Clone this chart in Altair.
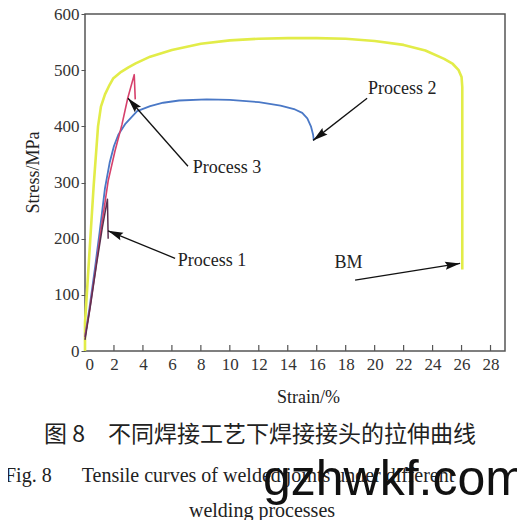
import math
import altair as alt
import pandas as pd

# ---------------- data ----------------
# BM (base metal)
bm_strain = [0, 0, 0.6, 0.9, 1.1, 1.38, 1.7, 1.94, 2.5, 3.0, 3.5, 4.5, 6, 8, 10, 12, 14, 16,
             18, 20, 22, 23.5, 24.8, 25.4, 25.8, 26.0, 26.05, 26.05]
bm_stress = [0, 50, 295, 400, 435, 457, 474, 485, 497, 505, 512, 524, 536, 547, 553, 556, 557, 557,
             556, 552, 545, 535, 520, 511, 500, 488, 470, 145]

# Process 2 (blue)
p2_strain = [0, 0.3, 0.7, 1.0, 1.38, 1.7, 2.0, 2.3, 2.8, 3.6, 4.5, 5.4, 6.5, 8.4, 10, 12, 13.5,
             14.5, 15.0, 15.35, 15.6, 15.75, 15.8]
p2_stress = [25, 75, 150, 210, 290, 335, 365, 385, 405, 427, 436, 442, 446, 448, 447, 443, 437,
             430, 424, 414, 400, 385, 375]

# Process 3 (red)
p3_strain = [0, 0.3, 0.7, 1.1, 1.6, 2.07, 2.55, 2.95, 3.4, 3.47]
p3_stress = [25, 70, 140, 215, 303, 356, 403, 450, 492, 448]

# Process 1 (dark)
p1_strain = [0, 0.4, 0.8, 1.2, 1.55, 1.6]
p1_stress = [20, 85, 155, 220, 270, 200]

x_ticks = list(range(0, 29, 2))
y_ticks = [0, 100, 200, 300, 400, 500, 600]

label_text = ["Process 1", "Process 2", "Process 3", "BM"]
label_strain = [8.77, 21.9, 9.8, 18.2]
label_stress = [161, 467, 326, 156]

arrow_tail_strain = [6.22, 19.48, 7.11, 18.65]
arrow_tail_stress = [165, 450, 329, 126]
arrow_tip_strain = [1.59, 15.75, 2.97, 25.9]
arrow_tip_stress = [214, 375, 450, 156]

caption_cn = "图 8\u3000不同焊接工艺下焊接接头的拉伸曲线"
caption_en1 = "Fig. 8\u2003\u2002Tensile curves of welded joints under different"
caption_en2 = "welding processes"
watermark = "gzhwkf.com"

# ---------------- layout ----------------
W, H = 420, 337
X_MAX, Y_MAX = 29, 600
SERIF = "Liberation Serif"

xscale = alt.Scale(domain=[0, X_MAX], nice=False, zero=False)
yscale = alt.Scale(domain=[0, Y_MAX], nice=False, zero=False)

x_axis = alt.Axis(
    values=x_ticks, ticks=False, domain=False, grid=False,
    labelFont=SERIF, labelFontSize=17, labelColor="#333", labelPadding=5,
    titleFont=SERIF, titleFontSize=18, titleFontWeight="normal", titleColor="#222",
    titleX=223, titleY=46, titleAlign="center", titleBaseline="middle",
)
y_axis = alt.Axis(
    values=y_ticks, tickSize=4, tickColor="#555", domain=False, grid=False,
    labelFont=SERIF, labelFontSize=17, labelColor="#333", labelPadding=2,
    titleFont=SERIF, titleFontSize=18, titleFontWeight="normal", titleColor="#222",
    titleX=-52, titleY=158, titleAngle=270, titleAlign="center", titleBaseline="middle",
)


def X(field="strain"):
    return alt.X(f"{field}:Q", scale=xscale, title="Strain/%", axis=x_axis)


def Y(field="stress"):
    return alt.Y(f"{field}:Q", scale=yscale, title="Stress/MPa", axis=y_axis)


def line_layer(xs, ys, color, width):
    df = pd.DataFrame({"strain": xs, "stress": ys, "i": list(range(len(xs)))})
    return alt.Chart(df).mark_line(color=color, strokeWidth=width, strokeJoin="round").encode(
        x=X(), y=Y(), order="i:Q"
    )


bm = line_layer(bm_strain, bm_stress, "#e2ec48", 2.6)
p2 = line_layer(p2_strain, p2_stress, "#4a78c6", 1.8)
p3 = line_layer(p3_strain, p3_stress, "#d6416c", 1.6)
p1 = line_layer(p1_strain, p1_stress, "#5a3050", 1.5)

# arrows
kx, ky = W / X_MAX, H / Y_MAX
angles = []
for tx, ty, hx, hy in zip(arrow_tail_strain, arrow_tail_stress, arrow_tip_strain, arrow_tip_stress):
    dx = (hx - tx) * kx
    dy = -(hy - ty) * ky
    angles.append(math.degrees(math.atan2(dx, -dy)) % 360)

arrow_df = pd.DataFrame({
    "strain": arrow_tail_strain, "stress": arrow_tail_stress,
    "strain2": arrow_tip_strain, "stress2": arrow_tip_stress, "angle": angles,
})
arrow_lines = alt.Chart(arrow_df).mark_rule(color="#111", strokeWidth=1.3).encode(
    x=X(), y=Y(), x2="strain2:Q", y2="stress2:Q"
)
head_df = pd.DataFrame({"strain": arrow_tip_strain, "stress": arrow_tip_stress, "angle": angles})
arrow_heads = alt.Chart(head_df).mark_point(
    shape="M0,0L-0.55,2L0,1.7L0.55,2Z", filled=True, color="#111", opacity=1, size=225, strokeWidth=0
).encode(x=X(), y=Y(), angle=alt.Angle("angle:Q", scale=None))

lab_df = pd.DataFrame({"strain": label_strain, "stress": label_stress, "t": label_text})
labels = alt.Chart(lab_df).mark_text(font=SERIF, fontSize=18, color="#222", align="center",
                                     baseline="middle").encode(x=X(), y=Y(), text="t:N")

# inward x ticks
tick_df = pd.DataFrame({"strain": x_ticks[1:]})
xticks = alt.Chart(tick_df).mark_rule(color="#555", strokeWidth=1.2).encode(
    x=X(), y=alt.value(H), y2=alt.value(H - 6)
)


def caption(text, x, y, font, size, align="center", baseline="alphabetic", color="#222"):
    return alt.Chart(pd.DataFrame({"t": [text]})).mark_text(
        font=font, fontSize=size, align=align, baseline=baseline, color=color
    ).encode(text="t:N", x=alt.value(x), y=alt.value(y))


cap_cn = caption(caption_cn, 175, 421, "Noto Sans CJK SC", 23, baseline="middle")
cap_en1 = caption(caption_en1, -80, 468, SERIF, 20, align="left")
cap_en2 = caption(caption_en2, 177, 503, SERIF, 20)
wm = caption(watermark, 178, 481, "Liberation Sans", 50, align="left", color="#111")

chart = alt.layer(
    bm, p2, p3, p1, xticks, arrow_lines, arrow_heads, labels, cap_cn, cap_en1, cap_en2, wm
).properties(
    width=W, height=H,
    padding={"left": 77, "top": 6, "right": 12, "bottom": 169},
    autosize=alt.AutoSizeParams(type="none"),
).configure_view(
    stroke="#555", strokeWidth=1.5
)

chart.save("out.html", embed_options={"renderer": "svg", "actions": False})
